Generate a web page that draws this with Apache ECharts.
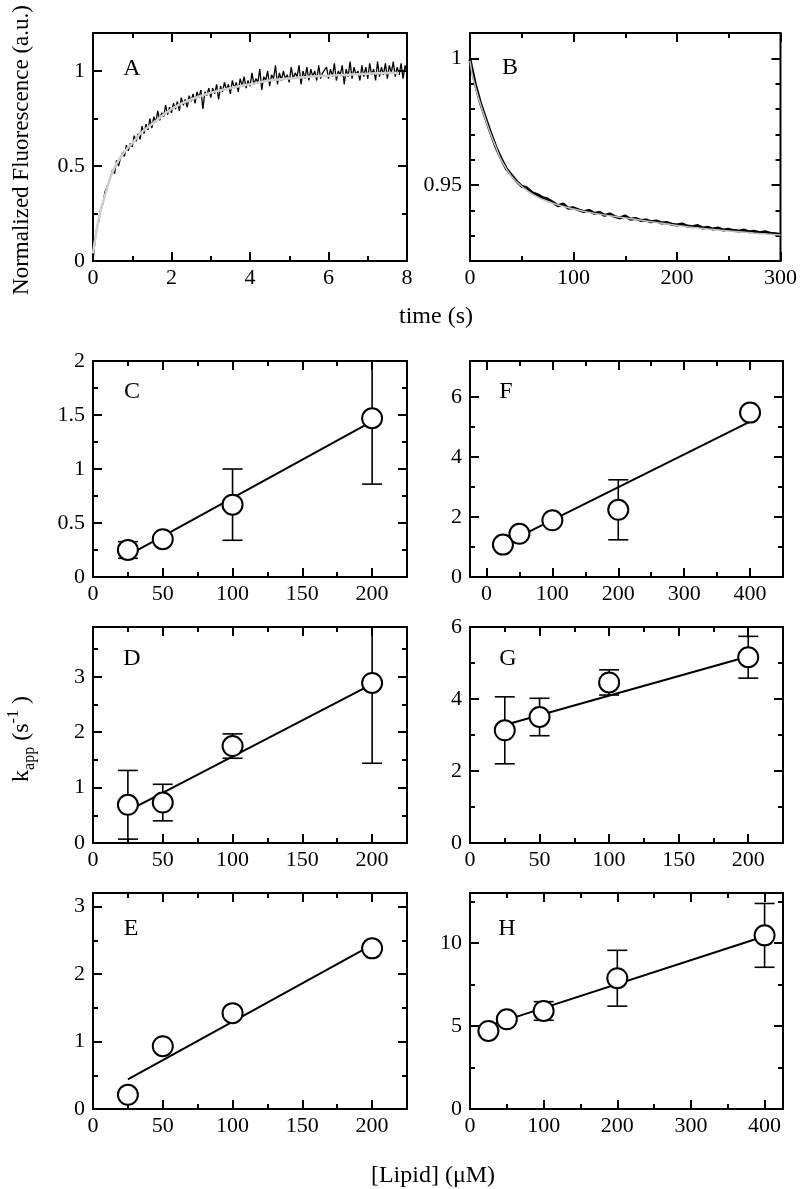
<!DOCTYPE html>
<html>
<head>
<meta charset="utf-8">
<title>Binding kinetics</title>
<script src="https://cdn.jsdelivr.net/npm/echarts@6.0.0/dist/echarts.min.js"></script>
<style>
  html, body { margin: 0; padding: 0; background: #fff; }
  #chart { width: 800px; height: 1189px; }
</style>
</head>
<body>
<div id="chart"></div>
<script>
// ---- panel A : fluorescence trace (one point every 0.05 s) + fit
const traceAStep = 0.05
const traceA = [
  0.00, 0.10, 0.18, 0.21, 0.28, 0.30, 0.36, 0.35, 0.41, 0.42, 0.48, 0.46, 0.53, 0.50, 0.54, 0.57, 0.55, 0.61, 0.58, 0.62,
  0.60, 0.66, 0.63, 0.67, 0.64, 0.71, 0.67, 0.72, 0.69, 0.75, 0.70, 0.76, 0.73, 0.79, 0.74, 0.78, 0.76, 0.82, 0.77, 0.81,
  0.78, 0.83, 0.80, 0.84, 0.79, 0.86, 0.82, 0.85, 0.81, 0.87, 0.84, 0.88, 0.83, 0.89, 0.86, 0.90, 0.80, 0.89, 0.87, 0.91,
  0.86, 0.91, 0.88, 0.93, 0.85, 0.92, 0.89, 0.94, 0.90, 0.93, 0.88, 0.95, 0.91, 0.94, 0.89, 0.96, 0.92, 0.97, 0.91, 0.95,
  0.92, 0.99, 0.93, 0.96, 0.94, 1.01, 0.90, 0.97, 0.95, 1.00, 0.92, 0.98, 0.96, 1.03, 0.93, 0.99, 0.95, 1.00, 0.96, 0.98,
  0.94, 1.02, 0.96, 0.99, 0.97, 1.03, 0.93, 1.00, 0.96, 1.02, 0.95, 1.01, 0.97, 1.00, 0.95, 1.03, 0.96, 0.99, 0.98, 1.02,
  0.96, 1.01, 0.97, 1.04, 0.95, 1.00, 0.98, 1.03, 0.93, 1.01, 0.97, 1.05, 0.96, 1.02, 0.98, 1.00, 0.95, 1.03, 0.97, 1.02,
  0.96, 1.04, 0.98, 1.01, 0.95, 1.05, 0.97, 1.02, 0.98, 1.04, 0.96, 1.03, 0.99, 1.05, 0.97, 1.02, 0.98, 1.04, 0.96, 1.03, 0.99
]
const fitATime = [0, 0.1, 0.2, 0.3, 0.5, 0.75, 1, 1.25, 1.5, 2, 2.5, 3, 3.5, 4, 4.5, 5, 5.5, 6, 6.5, 7, 7.5, 7.8]
const fitAValue = [0.04, 0.17, 0.27, 0.34, 0.47, 0.56, 0.62, 0.68, 0.72, 0.80, 0.85, 0.885, 0.91, 0.93, 0.95, 0.96, 0.97, 0.975, 0.98, 0.985, 0.99, 0.99]

// ---- panel B : slow decay (one point every 5 s) + fit
const traceBStep = 5
const traceB = [
  0.9995, 0.9900, 0.9825, 0.9765, 0.9705, 0.9650, 0.9605, 0.9565, 0.9540, 0.9515, 0.9495, 0.9488, 0.9470, 0.9462, 0.9450, 0.9445, 0.9432, 0.9418, 0.9425, 0.9408,
  0.9410, 0.9402, 0.9395, 0.9400, 0.9388, 0.9392, 0.9380, 0.9386, 0.9375, 0.9370, 0.9378, 0.9365, 0.9368, 0.9360, 0.9362, 0.9355, 0.9358, 0.9350, 0.9352, 0.9345,
  0.9342, 0.9346, 0.9338, 0.9335, 0.9340, 0.9330, 0.9333, 0.9326, 0.9330, 0.9322, 0.9325, 0.9320, 0.9318, 0.9322, 0.9315, 0.9317, 0.9312, 0.9316, 0.9310, 0.9308,
  0.9305
]
const fitBTime = [0, 2, 5, 10, 15, 20, 25, 30, 40, 50, 60, 75, 100, 125, 150, 175, 200, 225, 250, 275, 300]
const fitBValue = [0.999, 0.994, 0.989, 0.982, 0.976, 0.970, 0.965, 0.960, 0.9535, 0.9495, 0.9465, 0.9435, 0.9405, 0.9385, 0.937, 0.9355, 0.934, 0.9328, 0.9318, 0.931, 0.9303]

// ---- panels C..H : k_app vs [lipid]
const lipid4 = [25, 50, 100, 200]
const lipid5 = [25, 50, 100, 200, 400]

const kC = [0.25, 0.35, 0.67, 1.47]
const errC = [0.077, 0.03, 0.33, 0.61]
const fitC = [[25, 0.20], [200, 1.44]]

const kD = [0.69, 0.73, 1.75, 2.89]
const errD = [0.62, 0.33, 0.22, 1.45]
const fitD = [[25, 0.58], [200, 2.87]]

const kE = [0.21, 0.93, 1.42, 2.38]
const fitE = [[25, 0.44], [200, 2.43]]

const kF = [1.08, 1.44, 1.89, 2.24, 5.48]
const errF = [0.05, 0.05, 0.05, 1.0, 0.1]
const fitF = [[25, 1.08], [400, 5.18]]

const kG = [3.13, 3.50, 4.46, 5.16]
const errG = [0.93, 0.52, 0.35, 0.58]
const fitG = [[25, 3.28], [200, 5.18]]

const kH = [4.7, 5.4, 5.9, 7.87, 10.45]
const errH = [0.2, 0.2, 0.56, 1.68, 1.92]
const fitH = [[25, 5.0], [400, 10.4]]

// ---- tick values (major = labelled)
const xMajA = [0, 2, 4, 6, 8], xMinA = [1, 3, 5, 7]
const yMajA = [0, 0.5, 1], yMinA = [0.25, 0.75]
const xMajB = [0, 100, 200, 300], xMinB = [50, 150, 250]
const yMajB = [0.95, 1], yMinB = [0.93, 0.94, 0.96, 0.97, 0.98, 0.99]
const xMaj200 = [0, 50, 100, 150, 200], xMin200 = [25, 75, 125, 175]
const xMaj400 = [0, 100, 200, 300, 400], xMin400 = [50, 150, 250, 350]
const yMajC = [0, 0.5, 1, 1.5, 2], yMinC = [0.25, 0.75, 1.25, 1.75]
const yMajD = [0, 1, 2, 3], yMinD = [0.5, 1.5, 2.5, 3.5]
const yMajE = [0, 1, 2, 3], yMinE = [0.5, 1.5, 2.5]
const yMajF = [0, 2, 4, 6], yMinF = [1, 3, 5]
const yMajG = [0, 2, 4, 6], yMinG = [1, 3, 5]
const yMajH = [0, 5, 10], yMinH = [2.5, 7.5, 12.5]

const fontFamily = '"Liberation Serif", "Times New Roman", serif'

// panel layout: [left, top, width, height]
const panels = [
  { name: 'A', rect: [93, 33, 314, 228], x: [0, 8, xMajA, xMinA], y: [0, 1.2, yMajA, yMinA], letter: [132, 69] },
  { name: 'B', rect: [470, 33, 313, 228], x: [0, 300, xMajB, xMinB], y: [0.92, 1.01, yMajB, yMinB], letter: [510, 68] },
  { name: 'C', rect: [93, 361, 314, 216], x: [0, 225, xMaj200, xMin200], y: [0, 2, yMajC, yMinC], letter: [132, 392],
    xs: lipid4, ks: kC, errs: errC, fit: fitC },
  { name: 'F', rect: [470, 361, 313, 216], x: [-25, 450, xMaj400, xMin400], y: [0, 7.2, yMajF, yMinF], letter: [506, 392],
    xs: lipid5, ks: kF, errs: errF, fit: fitF },
  { name: 'D', rect: [93, 627, 314, 216], x: [0, 225, xMaj200, xMin200], y: [0, 3.9, yMajD, yMinD], letter: [132, 659],
    xs: lipid4, ks: kD, errs: errD, fit: fitD },
  { name: 'G', rect: [470, 627, 313, 216], x: [0, 225, xMaj200, xMin200], y: [0, 6, yMajG, yMinG], letter: [508, 659],
    xs: lipid4, ks: kG, errs: errG, fit: fitG },
  { name: 'E', rect: [93, 893, 314, 216], x: [0, 225, xMaj200, xMin200], y: [0, 3.2, yMajE, yMinE], letter: [131, 929],
    xs: lipid4, ks: kE, errs: null, fit: fitE },
  { name: 'H', rect: [470, 893, 313, 216], x: [0, 425, xMaj400, xMin400], y: [0, 13, yMajH, yMinH], letter: [507, 929],
    xs: lipid5, ks: kH, errs: errH, fit: fitH }
]

const grids = []
const xAxes = []
const yAxes = []
const series = []
const graphic = []

// four axes per direction: main (labels + long ticks), minor ticks, and the mirrored pair
function addAxes (list, gi, dim, range) {
  const [min, max, major, minor] = range
  const sides = dim === 'x' ? ['bottom', 'top'] : ['left', 'right']
  const first = list.length
  sides.forEach((pos, si) => {
    [[major, 9], [minor, 5]].forEach(([vals, len], ti) => {
      list.push({
        type: 'value',
        gridIndex: gi,
        position: pos,
        min: min,
        max: max,
        axisLine: { show: false, onZero: false },
        splitLine: { show: false },
        axisTick: {
          show: vals.length > 0,
          inside: true,
          length: len,
          customValues: vals,
          lineStyle: { color: '#000', width: 2 }
        },
        axisLabel: {
          show: si === 0 && ti === 0,
          customValues: vals,
          color: '#000',
          fontFamily: fontFamily,
          fontSize: 22,
          margin: dim === 'x' ? 6 : 8,
          showMinLabel: true,
          showMaxLabel: true
        }
      })
    })
  })
  return first
}

function errorBars (xi, yi, xs, ks, errs) {
  return {
    type: 'custom',
    xAxisIndex: xi,
    yAxisIndex: yi,
    clip: true,
    z: 2,
    encode: { x: 0, y: [1, 2] },
    data: xs.map((x, i) => [x, ks[i] - errs[i], ks[i] + errs[i]]),
    renderItem (params, api) {
      const lo = api.coord([api.value(0), api.value(1)])
      const hi = api.coord([api.value(0), api.value(2)])
      const w = 10
      const style = { stroke: '#000', lineWidth: 1.6 }
      return {
        type: 'group',
        children: [
          { type: 'line', shape: { x1: lo[0], y1: lo[1], x2: hi[0], y2: hi[1] }, style },
          { type: 'line', shape: { x1: lo[0] - w, y1: lo[1], x2: lo[0] + w, y2: lo[1] }, style },
          { type: 'line', shape: { x1: hi[0] - w, y1: hi[1], x2: hi[0] + w, y2: hi[1] }, style }
        ]
      }
    }
  }
}

panels.forEach((p, gi) => {
  grids.push({
    left: p.rect[0], top: p.rect[1], width: p.rect[2], height: p.rect[3],
    show: true, borderColor: '#000', borderWidth: 2, backgroundColor: 'transparent'
  })
  const xi = addAxes(xAxes, gi, 'x', p.x)
  const yi = addAxes(yAxes, gi, 'y', p.y)

  if (p.name === 'A') {
    series.push({
      type: 'line', xAxisIndex: xi, yAxisIndex: yi, showSymbol: false, z: 2,
      data: traceA.map((v, i) => [i * traceAStep, v]),
      lineStyle: { color: '#000', width: 1.3 }
    })
    series.push({
      type: 'line', xAxisIndex: xi, yAxisIndex: yi, showSymbol: false, smooth: true, z: 3,
      data: fitATime.map((t, i) => [t, fitAValue[i]]),
      lineStyle: { color: '#cfcfcf', width: 2.5 }
    })
  } else if (p.name === 'B') {
    series.push({
      type: 'line', xAxisIndex: xi, yAxisIndex: yi, showSymbol: false, z: 2,
      data: traceB.map((v, i) => [i * traceBStep, v]),
      lineStyle: { color: '#000', width: 3 }
    })
    series.push({
      type: 'line', xAxisIndex: xi, yAxisIndex: yi, showSymbol: false, smooth: true, z: 3,
      data: fitBTime.map((t, i) => [t, fitBValue[i]]),
      lineStyle: { color: '#c0c0c0', width: 1.5 }
    })
  } else {
    if (p.errs) series.push(errorBars(xi, yi, p.xs, p.ks, p.errs))
    series.push({
      type: 'line', xAxisIndex: xi, yAxisIndex: yi, showSymbol: false, z: 3,
      data: p.fit,
      lineStyle: { color: '#000', width: 2 }
    })
    series.push({
      type: 'scatter', xAxisIndex: xi, yAxisIndex: yi, z: 4,
      symbol: 'circle', symbolSize: 20,
      data: p.xs.map((x, i) => [x, p.ks[i]]),
      itemStyle: { color: '#fff', borderColor: '#000', borderWidth: 2, opacity: 1 }
    })
  }

  graphic.push({
    type: 'text', x: p.letter[0], y: p.letter[1], z: 10,
    style: { text: p.name, fontFamily: fontFamily, fontSize: 24, fill: '#000', align: 'center', verticalAlign: 'middle' }
  })
})

// axis titles
graphic.push({
  type: 'text', x: 22, y: 150, rotation: Math.PI / 2,
  style: { text: 'Normalized Fluorescence (a.u.)', fontFamily: fontFamily, fontSize: 23, fill: '#000', align: 'center', verticalAlign: 'middle' }
})
graphic.push({
  type: 'text', x: 436, y: 317,
  style: { text: 'time (s)', fontFamily: fontFamily, fontSize: 24, fill: '#000', align: 'center', verticalAlign: 'middle' }
})
graphic.push({
  type: 'text', x: 22, y: 739, rotation: Math.PI / 2,
  style: {
    text: '{k|k}{sub|app}{k| (s}{sup|-1}{k| )}',
    align: 'center',
    verticalAlign: 'middle',
    rich: {
      k: { fontFamily: fontFamily, fontSize: 24, lineHeight: 32, fill: '#000' },
      sub: { fontFamily: fontFamily, fontSize: 16, lineHeight: 16, verticalAlign: 'bottom', fill: '#000' },
      sup: { fontFamily: fontFamily, fontSize: 16, lineHeight: 16, verticalAlign: 'top', fill: '#000' }
    }
  }
})
graphic.push({
  type: 'text', x: 433, y: 1176,
  style: { text: '[Lipid] (μM)', fontFamily: fontFamily, fontSize: 24, fill: '#000', align: 'center', verticalAlign: 'middle' }
})

const chart = echarts.init(document.getElementById('chart'), null, { renderer: 'canvas' })
chart.setOption({
  animation: false,
  backgroundColor: '#fff',
  grid: grids,
  xAxis: xAxes,
  yAxis: yAxes,
  series: series,
  graphic: graphic
})
</script>
</body>
</html>
